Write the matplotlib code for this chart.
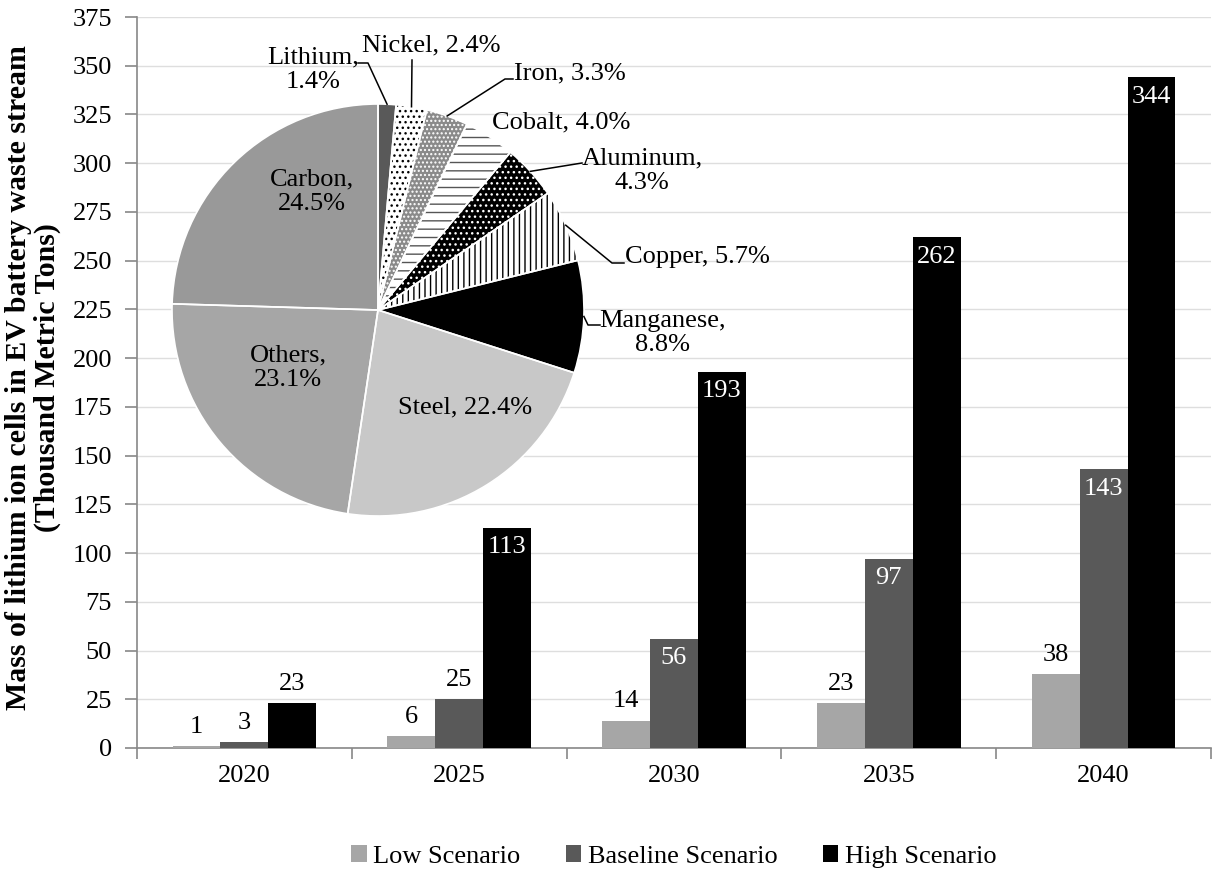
import numpy as np
import matplotlib
matplotlib.use('Agg')
from matplotlib import pyplot as plt
from matplotlib.lines import Line2D

plt.rcParams['font.family'] = ['Liberation Serif', 'DejaVu Serif']
plt.rcParams['hatch.linewidth'] = 1.0

years = ['2020', '2025', '2030', '2035', '2040']
low = [1, 6, 14, 23, 38]
baseline = [3, 25, 56, 97, 143]
high = [23, 113, 193, 262, 344]
scenarios = ['Low Scenario', 'Baseline Scenario', 'High Scenario']

materials = ['Lithium', 'Nickel', 'Iron', 'Cobalt', 'Aluminum', 'Copper',
             'Manganese', 'Steel', 'Others', 'Carbon']
shares = [1.4, 2.4, 3.3, 4.0, 4.3, 5.7, 8.8, 22.4, 23.1, 24.5]

W, H = 1212, 869


def px(x, y):
    return x / W, 1 - y / H


def main():
    fig = plt.figure(figsize=(W / 100, H / 100), dpi=100)
    ax = fig.add_axes([137 / W, 1 - 748 / H, (W - 138) / W, (748 - 17) / H])

    x = np.arange(len(years))
    bw = 0.223
    bar_colors = ['#a6a6a6', '#595959', '#000000']
    for i, (vals, col) in enumerate(zip([low, baseline, high], bar_colors)):
        bars = ax.bar(x + (i - 1) * bw, vals, bw, color=col, label=scenarios[i], zorder=3)
        for b, v in zip(bars, vals):
            cx = b.get_x() + b.get_width() / 2
            if v >= 50:
                ax.annotate(str(v), (cx, v), xytext=(0, -6), textcoords='offset points',
                            ha='center', va='top', color='white', fontsize=19, zorder=4)
            else:
                ax.annotate(str(v), (cx, v), xytext=(0, 6), textcoords='offset points',
                            ha='center', va='bottom', color='black', fontsize=19, zorder=4)

    ax.set_ylim(0, 375)
    ax.set_xlim(-0.5, len(years) - 0.5)
    ax.set_yticks(np.arange(0, 376, 25))
    ax.set_xticks(x)
    ax.set_xticklabels(years)
    ax.set_xticks(np.arange(-0.5, len(years), 1), minor=True)
    ax.tick_params(axis='x', which='major', length=0, pad=12, labelsize=19)
    ax.tick_params(axis='x', which='minor', length=8, color='#888888', width=1.2)
    ax.tick_params(axis='y', length=9, color='#888888', width=1.2, labelsize=19, pad=9)
    ax.grid(axis='y', color='#dedede', lw=1, zorder=0)
    for s in ['top', 'right']:
        ax.spines[s].set_visible(False)
    for s in ['left', 'bottom']:
        ax.spines[s].set_color('#888888')
        ax.spines[s].set_linewidth(1.2)

    fig.text(33 / W, 1 - 378 / H,
             'Mass of lithium ion cells in EV battery waste stream\n(Thousand Metric Tons)',
             rotation=90, ha='center', va='center', fontsize=21.5, fontweight='bold',
             linespacing=1.1)

    ax.legend(loc='center', bbox_to_anchor=(0.556, 0.014), bbox_transform=fig.transFigure,
              ncol=3, frameon=False, fontsize=19, handlelength=0.6, handleheight=0.6,
              handletextpad=0.25, columnspacing=1.7)

    # pie inset
    cxp, cyp, r = 378, 310, 206
    pax = fig.add_axes([(cxp - r) / W, 1 - (cyp + r) / H, 2 * r / W, 2 * r / H])
    faces = ['#595959', 'white', '#8a8a8a', 'white', 'black', 'white',
             'black', '#c8c8c8', '#a6a6a6', '#999999']
    hcols = ['#595959', 'black', 'white', '#555555', 'white', 'black',
             'black', '#c8c8c8', '#a6a6a6', '#999999']
    hatches = ['', '...', '....', '--', '...', '|||', '', '', '', '']
    wedges, _ = pax.pie(shares, startangle=90, counterclock=False, colors=faces,
                        hatch=hatches, radius=1,
                        wedgeprops=dict(linewidth=0))
    for w, hc in zip(wedges, hcols):
        w.set_edgecolor(hc)
    pax.pie(shares, startangle=90, counterclock=False, colors=['none'] * len(shares),
            radius=1, wedgeprops=dict(edgecolor='white', linewidth=1.2))
    pax.set_xlim(-1, 1)
    pax.set_ylim(-1, 1)
    pax.set_aspect('equal')
    pax.axis('off')

    fs = 19
    inner = {'Carbon': (312, 192), 'Others': (288, 368), 'Steel': (465, 407)}
    for m, s in zip(materials, shares):
        if m in inner:
            tx, ty = inner[m]
            sep = ' ' if m == 'Steel' else '\n'
            fig.text(*px(tx, ty), f'{m},{sep}{s}%', ha='center', va='center', fontsize=fs,
                     linespacing=1.15)

    # outer labels: text position (px), alignment, separator, leader line points
    outer = {
        'Lithium': ((313, 70), 'center', '\n', [(368, 63), (358, 63)]),
        'Nickel': ((431, 45), 'center', ' ', [(412, 60)]),
        'Iron': ((514, 73), 'left', ' ', [(505, 79), (513, 79)]),
        'Cobalt': ((492, 122), 'left', ' ', None),
        'Aluminum': ((642, 171), 'center', '\n', [(582, 163)]),
        'Copper': ((625, 257), 'left', ' ', [(612, 263), (624, 263)]),
        'Manganese': ((662, 333), 'center', '\n', [(588, 325), (600, 325)]),
    }
    theta0 = 90.0
    for m, s in zip(materials, shares):
        mid = np.deg2rad(theta0 - 360 * s / 200)
        theta0 -= 360 * s / 100
        if m not in outer:
            continue
        (tx, ty), ha, sep, pts = outer[m]
        fig.text(*px(tx, ty), f'{m},{sep}{s}%', ha=ha, va='center', fontsize=fs,
                 linespacing=1.15, multialignment='center')
        if pts:
            ex, ey = cxp + r * np.cos(mid), cyp - r * np.sin(mid)
            xs = [ex] + [p[0] for p in pts]
            ys = [ey] + [p[1] for p in pts]
            fig.add_artist(Line2D([v / W for v in xs], [1 - v / H for v in ys],
                                  color='black', lw=1.1, transform=fig.transFigure))

    plt.savefig('out.png', dpi=100)
    plt.close(fig)


if __name__ == '__main__':
    main()
